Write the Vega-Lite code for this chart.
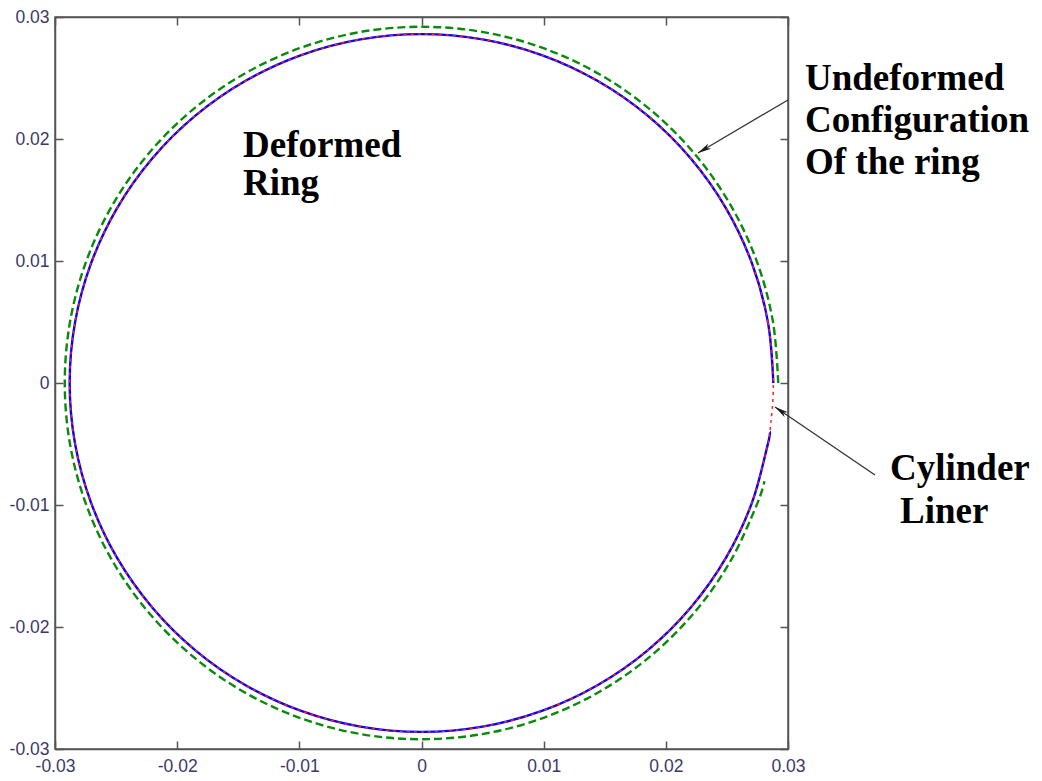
{
  "$schema": "https://vega.github.io/schema/vega-lite/v6.json",
  "autosize": "none",
  "width": 733,
  "height": 732,
  "padding": {"left": 55, "top": 17, "right": 254, "bottom": 32},
  "background": "white",
  "config": {
    "view": {"stroke": "#555555", "strokeWidth": 1.5},
    "axis": {
      "grid": false,
      "title": null,
      "domainColor": "#555555",
      "domainWidth": 1.5,
      "tickColor": "#555555",
      "tickWidth": 1.5,
      "tickSize": -8,
      "labelFont": "Liberation Sans",
      "labelFontSize": 17.5,
      "labelColor": "#3a3a66",
      "labelFlush": false,
      "labelOverlap": false,
      "labelBound": false
    }
  },
  "datasets": {
    "undeformed": [
      {"i": 0, "x": 0.0292, "y": 0},
      {"i": 1, "x": 0.02876, "y": 0.00507},
      {"i": 2, "x": 0.02744, "y": 0.00999},
      {"i": 3, "x": 0.02529, "y": 0.0146},
      {"i": 4, "x": 0.02237, "y": 0.01877},
      {"i": 5, "x": 0.01877, "y": 0.02237},
      {"i": 6, "x": 0.0146, "y": 0.02529},
      {"i": 7, "x": 0.00999, "y": 0.02744},
      {"i": 8, "x": 0.00507, "y": 0.02876},
      {"i": 9, "x": 0, "y": 0.0292},
      {"i": 10, "x": -0.00507, "y": 0.02876},
      {"i": 11, "x": -0.00999, "y": 0.02744},
      {"i": 12, "x": -0.0146, "y": 0.02529},
      {"i": 13, "x": -0.01877, "y": 0.02237},
      {"i": 14, "x": -0.02237, "y": 0.01877},
      {"i": 15, "x": -0.02529, "y": 0.0146},
      {"i": 16, "x": -0.02744, "y": 0.00999},
      {"i": 17, "x": -0.02876, "y": 0.00507},
      {"i": 18, "x": -0.0292, "y": 0},
      {"i": 19, "x": -0.02876, "y": -0.00507},
      {"i": 20, "x": -0.02744, "y": -0.00999},
      {"i": 21, "x": -0.02529, "y": -0.0146},
      {"i": 22, "x": -0.02237, "y": -0.01877},
      {"i": 23, "x": -0.01877, "y": -0.02237},
      {"i": 24, "x": -0.0146, "y": -0.02529},
      {"i": 25, "x": -0.00999, "y": -0.02744},
      {"i": 26, "x": -0.00507, "y": -0.02876},
      {"i": 27, "x": 0, "y": -0.0292},
      {"i": 28, "x": 0.00507, "y": -0.02876},
      {"i": 29, "x": 0.00999, "y": -0.02744},
      {"i": 30, "x": 0.0146, "y": -0.02529},
      {"i": 31, "x": 0.01877, "y": -0.02237},
      {"i": 32, "x": 0.02237, "y": -0.01877},
      {"i": 33, "x": 0.02529, "y": -0.0146},
      {"i": 34, "x": 0.02744, "y": -0.00999},
      {"i": 35, "x": 0.02807, "y": -0.00805}
    ],
    "deformed": [
      {"i": 0, "x": 0.0288, "y": 0},
      {"i": 1, "x": 0.02836, "y": 0.00497},
      {"i": 2, "x": 0.02706, "y": 0.00978},
      {"i": 3, "x": 0.02494, "y": 0.0143},
      {"i": 4, "x": 0.02206, "y": 0.01838},
      {"i": 5, "x": 0.01851, "y": 0.02191},
      {"i": 6, "x": 0.0144, "y": 0.02477},
      {"i": 7, "x": 0.00985, "y": 0.02688},
      {"i": 8, "x": 0.005, "y": 0.02817},
      {"i": 9, "x": 0, "y": 0.0286},
      {"i": 10, "x": -0.005, "y": 0.02817},
      {"i": 11, "x": -0.00985, "y": 0.02688},
      {"i": 12, "x": -0.0144, "y": 0.02477},
      {"i": 13, "x": -0.01851, "y": 0.02191},
      {"i": 14, "x": -0.02206, "y": 0.01838},
      {"i": 15, "x": -0.02494, "y": 0.0143},
      {"i": 16, "x": -0.02706, "y": 0.00978},
      {"i": 17, "x": -0.02836, "y": 0.00497},
      {"i": 18, "x": -0.0288, "y": 0},
      {"i": 19, "x": -0.02836, "y": -0.00497},
      {"i": 20, "x": -0.02706, "y": -0.00978},
      {"i": 21, "x": -0.02494, "y": -0.0143},
      {"i": 22, "x": -0.02206, "y": -0.01838},
      {"i": 23, "x": -0.01851, "y": -0.02191},
      {"i": 24, "x": -0.0144, "y": -0.02477},
      {"i": 25, "x": -0.00985, "y": -0.02688},
      {"i": 26, "x": -0.005, "y": -0.02817},
      {"i": 27, "x": 0, "y": -0.0286},
      {"i": 28, "x": 0.005, "y": -0.02817},
      {"i": 29, "x": 0.00985, "y": -0.02688},
      {"i": 30, "x": 0.0144, "y": -0.02477},
      {"i": 31, "x": 0.01851, "y": -0.02191},
      {"i": 32, "x": 0.02206, "y": -0.01838},
      {"i": 33, "x": 0.02494, "y": -0.0143},
      {"i": 34, "x": 0.02706, "y": -0.00978},
      {"i": 35, "x": 0.02836, "y": -0.00497},
      {"i": 36, "x": 0.02852, "y": -0.00398}
    ],
    "arrows": [
      {"name": "undeformed", "x": 0.03, "y": 0.0232, "x2": 0.02263, "y2": 0.01885},
      {"name": "liner", "x": 0.03712, "y": -0.00754, "x2": 0.02894, "y2": -0.00197}
    ],
    "labels": [
      {"text": "Deformed", "x": -0.01461, "y": 0.01852},
      {"text": "Ring", "x": -0.01461, "y": 0.01541},
      {"text": "Undeformed", "x": 0.03139, "y": 0.02402},
      {"text": "Configuration", "x": 0.03139, "y": 0.02057},
      {"text": "Of the ring", "x": 0.03139, "y": 0.01713},
      {"text": "Cylinder", "x": 0.03835, "y": -0.00795},
      {"text": "Liner", "x": 0.03917, "y": -0.01148}
    ]
  },
  "layer": [
    {
      "data": {"name": "undeformed"},
      "mark": {"type": "line", "interpolate": "cardinal", "color": "#0a8a0a", "strokeWidth": 2.4, "strokeDash": [8, 4]},
      "encoding": {
        "x": {"field": "x", "type": "quantitative", "scale": {"domain": [-0.03, 0.03], "nice": false, "zero": false},
          "axis": {"orient": "bottom", "values": [-0.03, -0.02, -0.01, 0, 0.01, 0.02, 0.03], "labelExpr": "toString(datum.value)", "labelPadding": 16}},
        "y": {"field": "y", "type": "quantitative", "scale": {"domain": [-0.03, 0.03], "nice": false, "zero": false},
          "axis": {"orient": "left", "values": [-0.03, -0.02, -0.01, 0, 0.01, 0.02, 0.03], "labelExpr": "toString(datum.value)", "labelPadding": 14}},
        "order": {"field": "i", "type": "quantitative"}
      }
    },
    {
      "data": {"name": "deformed"},
      "mark": {"type": "line", "interpolate": "cardinal", "color": "#0000ff", "strokeWidth": 2.4},
      "encoding": {
        "x": {"field": "x", "type": "quantitative",
          "axis": {"orient": "top", "values": [-0.03, -0.02, -0.01, 0, 0.01, 0.02, 0.03], "labels": false}},
        "y": {"field": "y", "type": "quantitative",
          "axis": {"orient": "right", "values": [-0.03, -0.02, -0.01, 0, 0.01, 0.02, 0.03], "labels": false}},
        "order": {"field": "i", "type": "quantitative"}
      }
    },
    {
      "data": {"name": "deformed"},
      "mark": {"type": "line", "interpolate": "cardinal-closed", "color": "#ff2020", "strokeWidth": 1.5, "strokeDash": [3, 4]},
      "encoding": {
        "x": {"field": "x", "type": "quantitative", "axis": null},
        "y": {"field": "y", "type": "quantitative", "axis": null},
        "order": {"field": "i", "type": "quantitative"}
      }
    },
    {
      "data": {"name": "arrows"},
      "mark": {"type": "rule", "color": "#333333", "strokeWidth": 1.3},
      "encoding": {
        "x": {"field": "x", "type": "quantitative", "axis": null},
        "y": {"field": "y", "type": "quantitative", "axis": null},
        "x2": {"field": "x2"},
        "y2": {"field": "y2"}
      }
    },
    {
      "data": {"name": "arrows"},
      "transform": [{"filter": "datum.name == 'undeformed'"}],
      "mark": {"type": "point", "shape": "M0,0L0.4,1.8L0,1.3L-0.4,1.8Z", "filled": true, "color": "#1a1a1a", "size": 230, "angle": 239.5, "opacity": 1},
      "encoding": {
        "x": {"field": "x2", "type": "quantitative", "axis": null},
        "y": {"field": "y2", "type": "quantitative", "axis": null}
      }
    },
    {
      "data": {"name": "arrows"},
      "transform": [{"filter": "datum.name == 'liner'"}],
      "mark": {"type": "point", "shape": "M0,0L0.4,1.8L0,1.3L-0.4,1.8Z", "filled": true, "color": "#1a1a1a", "size": 230, "angle": 304.2, "opacity": 1},
      "encoding": {
        "x": {"field": "x2", "type": "quantitative", "axis": null},
        "y": {"field": "y2", "type": "quantitative", "axis": null}
      }
    },
    {
      "data": {"name": "labels"},
      "mark": {"type": "text", "font": "Liberation Serif", "fontWeight": "bold", "fontSize": 37, "color": "#000000", "align": "left", "baseline": "alphabetic"},
      "encoding": {
        "x": {"field": "x", "type": "quantitative", "axis": null},
        "y": {"field": "y", "type": "quantitative", "axis": null},
        "text": {"field": "text"}
      }
    }
  ],
  "resolve": {"axis": {"x": "independent", "y": "independent"}}
}
